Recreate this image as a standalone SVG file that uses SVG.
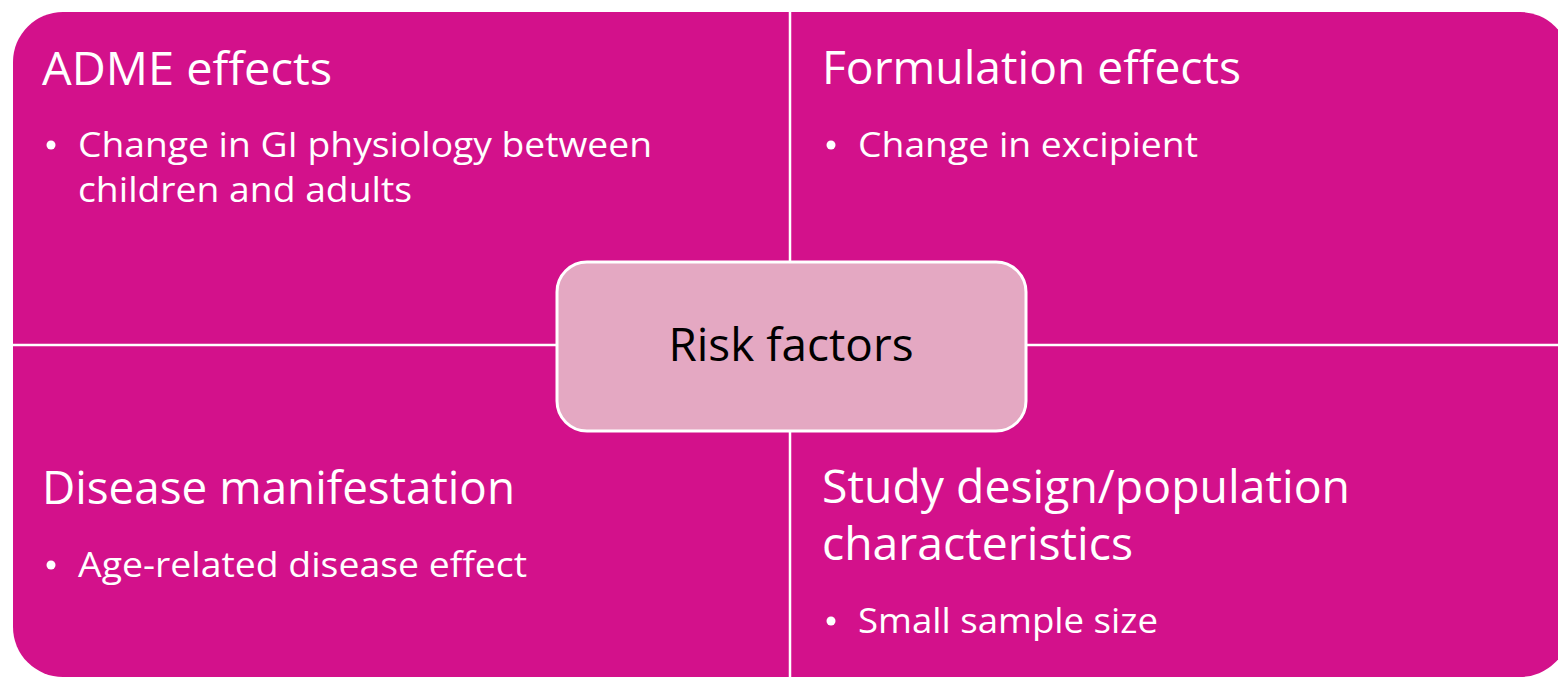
<svg xmlns="http://www.w3.org/2000/svg" width="1558" height="678" viewBox="0 0 1558 678">
  <style>
    .quad { fill: #D3118B; }
    .divider { stroke: #FFFFFF; stroke-width: 2.5; fill: none; }
    .head { font-family: "Open Sans", "Noto Sans", "Liberation Sans", sans-serif; font-size: 45px; fill: #FFFFFF; }
    .item { font-family: "Open Sans", "Noto Sans", "Liberation Sans", sans-serif; font-size: 35px; fill: #FFFFFF; }
    .dot { fill: #FFFFFF; }
    .center-box { fill: #E4A8C2; stroke: #FFFFFF; stroke-width: 3; }
    .center-label { font-family: "Open Sans", "Noto Sans", "Liberation Sans", sans-serif; font-size: 46px; fill: #000000; }
  </style>

  <!-- magenta field with rounded outer corners -->
  <g id="background">
    <rect class="quad" x="13" y="12" width="1557" height="665" rx="50" ry="50"/>
  </g>

  <!-- white dividers between the four quadrants -->
  <g id="connectors">
    <line class="divider" x1="790" y1="12" x2="790" y2="677"/>
    <line class="divider" x1="13" y1="345" x2="1558" y2="345"/>
  </g>

  <g id="adme">
    <text class="head" x="42" y="85" textLength="290" lengthAdjust="spacingAndGlyphs">ADME effects</text>
    <circle class="dot" cx="51" cy="145" r="4.5"/>
    <text class="item" x="78" y="157" textLength="574" lengthAdjust="spacingAndGlyphs">Change in GI physiology between</text>
    <text class="item" x="78" y="202" textLength="334" lengthAdjust="spacingAndGlyphs">children and adults</text>
  </g>

  <g id="formulation">
    <text class="head" x="822" y="84" textLength="419" lengthAdjust="spacingAndGlyphs">Formulation effects</text>
    <circle class="dot" cx="831" cy="145" r="4.5"/>
    <text class="item" x="858" y="157" textLength="340" lengthAdjust="spacingAndGlyphs">Change in excipient</text>
  </g>

  <g id="disease">
    <text class="head" x="42" y="504" textLength="473" lengthAdjust="spacingAndGlyphs">Disease manifestation</text>
    <circle class="dot" cx="51" cy="565" r="4.5"/>
    <text class="item" x="78" y="577" textLength="449" lengthAdjust="spacingAndGlyphs">Age-related disease effect</text>
  </g>

  <g id="study">
    <text class="head" x="822" y="503" textLength="528" lengthAdjust="spacingAndGlyphs">Study design/population</text>
    <text class="head" x="822" y="560" textLength="311" lengthAdjust="spacingAndGlyphs">characteristics</text>
    <circle class="dot" cx="831" cy="621" r="4.5"/>
    <text class="item" x="858" y="633" textLength="300" lengthAdjust="spacingAndGlyphs">Small sample size</text>
  </g>

  <g id="risk-factors">
    <rect class="center-box" x="557" y="262" width="469" height="169" rx="30" ry="30"/>
    <text class="center-label" x="791" y="361" text-anchor="middle" textLength="245" lengthAdjust="spacingAndGlyphs">Risk factors</text>
  </g>
</svg>
